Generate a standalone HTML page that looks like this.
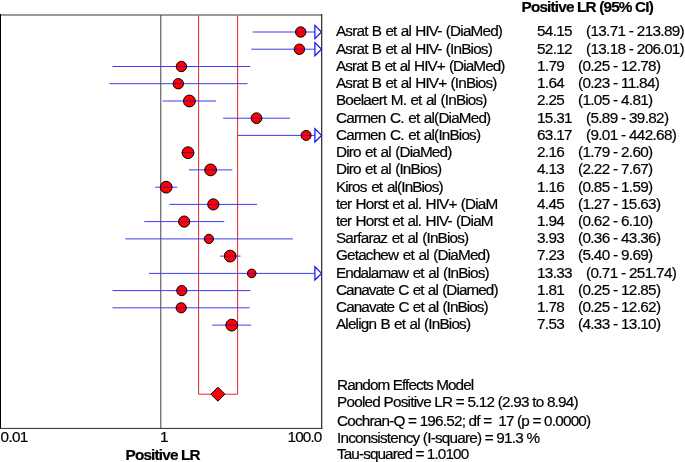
<!DOCTYPE html>
<html><head><meta charset="utf-8"><style>
html,body{margin:0;padding:0;background:#fff;}
body{width:685px;height:462px;position:relative;overflow:hidden;font-family:"Liberation Sans",sans-serif;color:#000;}
.t{position:absolute;-webkit-text-stroke:0.2px #000;font-size:15.3px;line-height:17px;white-space:nowrap;letter-spacing:-0.68px;}
.b{font-weight:bold;}
svg{position:absolute;left:0;top:0;}
#tx{position:absolute;left:0;top:0;width:685px;height:462px;will-change:transform;}
</style></head><body>
<svg width="685" height="462" viewBox="0 0 685 462">
<rect x="0" y="14" width="322" height="2" fill="#9a9a9a"/>
<rect x="0" y="14" width="1" height="415" fill="#000"/>
<rect x="0" y="427.9" width="322.3" height="1.1" fill="#3c3c3c"/>
<rect x="160.3" y="15" width="1" height="413.5" fill="#404040"/>
<path d="M198.6 15.5 V394.2 H237.6 V15.5" fill="none" stroke="#e02828" stroke-width="1"/>
<line x1="252.6" y1="32.0" x2="315.2" y2="32.0" stroke="#3c3cf4" stroke-width="1"/>
<path d="M314.9 25.4 L321.6 32.0 L314.9 38.6 Z" fill="#fff" stroke="#1010f0" stroke-width="1.2" stroke-linejoin="miter"/>
<circle cx="300.7" cy="32.0" r="5.20" fill="#ff0000" stroke="#000" stroke-width="1"/>
<line x1="295.4" y1="32.0" x2="306.0" y2="32.0" stroke="#0000e0" stroke-width="1" opacity="0.55"/>
<line x1="251.3" y1="49.2" x2="315.2" y2="49.2" stroke="#3c3cf4" stroke-width="1"/>
<path d="M314.9 42.6 L321.6 49.2 L314.9 55.8 Z" fill="#fff" stroke="#1010f0" stroke-width="1.2" stroke-linejoin="miter"/>
<circle cx="299.4" cy="49.2" r="5.20" fill="#ff0000" stroke="#000" stroke-width="1"/>
<line x1="294.1" y1="49.2" x2="304.7" y2="49.2" stroke="#0000e0" stroke-width="1" opacity="0.55"/>
<line x1="112.5" y1="66.5" x2="250.2" y2="66.5" stroke="#3c3cf4" stroke-width="1"/>
<circle cx="181.4" cy="66.5" r="5.20" fill="#ff0000" stroke="#000" stroke-width="1"/>
<line x1="176.1" y1="66.5" x2="186.7" y2="66.5" stroke="#0000e0" stroke-width="1" opacity="0.55"/>
<line x1="109.6" y1="83.7" x2="247.5" y2="83.7" stroke="#3c3cf4" stroke-width="1"/>
<circle cx="178.3" cy="83.7" r="5.20" fill="#ff0000" stroke="#000" stroke-width="1"/>
<line x1="173.0" y1="83.7" x2="183.6" y2="83.7" stroke="#0000e0" stroke-width="1" opacity="0.55"/>
<line x1="162.7" y1="101.0" x2="216.0" y2="101.0" stroke="#3c3cf4" stroke-width="1"/>
<circle cx="189.4" cy="101.0" r="5.90" fill="#ff0000" stroke="#000" stroke-width="1"/>
<line x1="183.4" y1="101.0" x2="195.4" y2="101.0" stroke="#0000e0" stroke-width="1" opacity="0.55"/>
<line x1="223.1" y1="118.2" x2="290.0" y2="118.2" stroke="#3c3cf4" stroke-width="1"/>
<circle cx="256.5" cy="118.2" r="5.40" fill="#ff0000" stroke="#000" stroke-width="1"/>
<line x1="251.0" y1="118.2" x2="262.0" y2="118.2" stroke="#0000e0" stroke-width="1" opacity="0.55"/>
<line x1="238.0" y1="135.4" x2="315.2" y2="135.4" stroke="#3c3cf4" stroke-width="1"/>
<path d="M314.9 128.8 L321.6 135.4 L314.9 142.0 Z" fill="#fff" stroke="#1010f0" stroke-width="1.2" stroke-linejoin="miter"/>
<circle cx="306.1" cy="135.4" r="5.00" fill="#ff0000" stroke="#000" stroke-width="1"/>
<line x1="301.0" y1="135.4" x2="311.2" y2="135.4" stroke="#0000e0" stroke-width="1" opacity="0.55"/>
<line x1="181.4" y1="152.7" x2="194.4" y2="152.7" stroke="#3c3cf4" stroke-width="1"/>
<circle cx="188.0" cy="152.7" r="5.90" fill="#ff0000" stroke="#000" stroke-width="1"/>
<line x1="182.0" y1="152.7" x2="194.0" y2="152.7" stroke="#0000e0" stroke-width="1" opacity="0.55"/>
<line x1="188.9" y1="169.9" x2="232.3" y2="169.9" stroke="#3c3cf4" stroke-width="1"/>
<circle cx="210.6" cy="169.9" r="5.90" fill="#ff0000" stroke="#000" stroke-width="1"/>
<line x1="204.6" y1="169.9" x2="216.6" y2="169.9" stroke="#0000e0" stroke-width="1" opacity="0.55"/>
<line x1="155.3" y1="187.2" x2="177.2" y2="187.2" stroke="#3c3cf4" stroke-width="1"/>
<circle cx="166.2" cy="187.2" r="5.90" fill="#ff0000" stroke="#000" stroke-width="1"/>
<line x1="160.2" y1="187.2" x2="172.2" y2="187.2" stroke="#0000e0" stroke-width="1" opacity="0.55"/>
<line x1="169.4" y1="204.4" x2="257.2" y2="204.4" stroke="#3c3cf4" stroke-width="1"/>
<circle cx="213.3" cy="204.4" r="5.60" fill="#ff0000" stroke="#000" stroke-width="1"/>
<line x1="207.6" y1="204.4" x2="219.0" y2="204.4" stroke="#0000e0" stroke-width="1" opacity="0.55"/>
<line x1="144.3" y1="221.6" x2="224.3" y2="221.6" stroke="#3c3cf4" stroke-width="1"/>
<circle cx="184.2" cy="221.6" r="5.60" fill="#ff0000" stroke="#000" stroke-width="1"/>
<line x1="178.5" y1="221.6" x2="189.9" y2="221.6" stroke="#0000e0" stroke-width="1" opacity="0.55"/>
<line x1="125.2" y1="238.9" x2="292.9" y2="238.9" stroke="#3c3cf4" stroke-width="1"/>
<circle cx="208.9" cy="238.9" r="4.60" fill="#ff0000" stroke="#000" stroke-width="1"/>
<line x1="204.2" y1="238.9" x2="213.6" y2="238.9" stroke="#0000e0" stroke-width="1" opacity="0.55"/>
<line x1="220.0" y1="256.1" x2="240.5" y2="256.1" stroke="#3c3cf4" stroke-width="1"/>
<circle cx="230.2" cy="256.1" r="5.90" fill="#ff0000" stroke="#000" stroke-width="1"/>
<line x1="224.2" y1="256.1" x2="236.2" y2="256.1" stroke="#0000e0" stroke-width="1" opacity="0.55"/>
<line x1="149.0" y1="273.4" x2="315.2" y2="273.4" stroke="#3c3cf4" stroke-width="1"/>
<path d="M314.9 266.8 L321.6 273.4 L314.9 280.0 Z" fill="#fff" stroke="#1010f0" stroke-width="1.2" stroke-linejoin="miter"/>
<circle cx="251.7" cy="273.4" r="4.30" fill="#ff0000" stroke="#000" stroke-width="1"/>
<line x1="247.3" y1="273.4" x2="256.1" y2="273.4" stroke="#0000e0" stroke-width="1" opacity="0.55"/>
<line x1="112.5" y1="290.6" x2="250.4" y2="290.6" stroke="#3c3cf4" stroke-width="1"/>
<circle cx="181.8" cy="290.6" r="5.10" fill="#ff0000" stroke="#000" stroke-width="1"/>
<line x1="176.6" y1="290.6" x2="187.0" y2="290.6" stroke="#0000e0" stroke-width="1" opacity="0.55"/>
<line x1="112.5" y1="307.8" x2="249.7" y2="307.8" stroke="#3c3cf4" stroke-width="1"/>
<circle cx="181.2" cy="307.8" r="5.10" fill="#ff0000" stroke="#000" stroke-width="1"/>
<line x1="176.0" y1="307.8" x2="186.4" y2="307.8" stroke="#0000e0" stroke-width="1" opacity="0.55"/>
<line x1="212.3" y1="325.1" x2="251.1" y2="325.1" stroke="#3c3cf4" stroke-width="1"/>
<circle cx="231.7" cy="325.1" r="5.90" fill="#ff0000" stroke="#000" stroke-width="1"/>
<line x1="225.7" y1="325.1" x2="237.7" y2="325.1" stroke="#0000e0" stroke-width="1" opacity="0.55"/>
<rect x="321" y="14" width="1.3" height="414.8" fill="#383838"/>
<path d="M217.9 387.2 L224.9 394.2 L217.9 401.2 L210.9 394.2 Z" fill="#ff0000" stroke="#000" stroke-width="1"/>
</svg>
<div id="tx">
<div class="t b" style="left:521.5px;top:-2.1px;letter-spacing:-0.82px">Positive LR (95% CI)</div>
<div class="t" style="left:336px;top:22.3px;letter-spacing:-0.830px;word-spacing:0.81px">Asrat B et al HIV- (DiaMed)</div>
<div class="t" style="left:537px;top:22.3px">54.15</div>
<div class="t" style="left:586px;top:22.3px">(13.71 - 213.89)</div>
<div class="t" style="left:336px;top:39.5px;letter-spacing:-0.830px;word-spacing:0.81px">Asrat B et al HIV- (InBios)</div>
<div class="t" style="left:537px;top:39.5px">52.12</div>
<div class="t" style="left:586px;top:39.5px">(13.18 - 206.01)</div>
<div class="t" style="left:336px;top:56.8px;letter-spacing:-0.915px;word-spacing:0.81px">Asrat B et al HIV+ (DiaMed)</div>
<div class="t" style="left:537px;top:56.8px">1.79</div>
<div class="t" style="left:578px;top:56.8px">(0.25 - 12.78)</div>
<div class="t" style="left:336px;top:74.0px;letter-spacing:-0.830px;word-spacing:0.81px">Asrat B et al HIV+ (InBios)</div>
<div class="t" style="left:537px;top:74.0px">1.64</div>
<div class="t" style="left:578px;top:74.0px">(0.23 - 11.84)</div>
<div class="t" style="left:336px;top:91.3px;letter-spacing:-0.830px;word-spacing:0.97px">Boelaert M. et al (InBios)</div>
<div class="t" style="left:537px;top:91.3px">2.25</div>
<div class="t" style="left:578px;top:91.3px">(1.05 - 4.81)</div>
<div class="t" style="left:336px;top:108.5px;letter-spacing:-0.830px;word-spacing:1.15px">Carmen C. et al(DiaMed)</div>
<div class="t" style="left:537px;top:108.5px">15.31</div>
<div class="t" style="left:586px;top:108.5px">(5.89 - 39.82)</div>
<div class="t" style="left:336px;top:125.7px;letter-spacing:-0.830px;word-spacing:1.15px">Carmen C. et al(InBios)</div>
<div class="t" style="left:537px;top:125.7px">63.17</div>
<div class="t" style="left:586px;top:125.7px">(9.01 - 442.68)</div>
<div class="t" style="left:336px;top:143.0px;letter-spacing:-0.830px;word-spacing:0.95px">Diro et al (DiaMed)</div>
<div class="t" style="left:537px;top:143.0px">2.16</div>
<div class="t" style="left:578px;top:143.0px">(1.79 - 2.60)</div>
<div class="t" style="left:336px;top:160.2px;letter-spacing:-0.830px;word-spacing:0.95px">Diro et al (InBios)</div>
<div class="t" style="left:537px;top:160.2px">4.13</div>
<div class="t" style="left:578px;top:160.2px">(2.22 - 7.67)</div>
<div class="t" style="left:336px;top:177.5px;letter-spacing:-0.890px;word-spacing:1.43px">Kiros et al(InBios)</div>
<div class="t" style="left:537px;top:177.5px">1.16</div>
<div class="t" style="left:578px;top:177.5px">(0.85 - 1.59)</div>
<div class="t" style="left:336px;top:194.7px;letter-spacing:-0.830px;word-spacing:0.81px">ter Horst et al. HIV+ (DiaM</div>
<div class="t" style="left:537px;top:194.7px">4.45</div>
<div class="t" style="left:578px;top:194.7px">(1.27 - 15.63)</div>
<div class="t" style="left:336px;top:211.9px;letter-spacing:-0.830px;word-spacing:0.81px">ter Horst et al. HIV- (DiaM</div>
<div class="t" style="left:537px;top:211.9px">1.94</div>
<div class="t" style="left:578px;top:211.9px">(0.62 - 6.10)</div>
<div class="t" style="left:336px;top:229.2px;letter-spacing:-0.830px;word-spacing:1.15px">Sarfaraz et al (InBios)</div>
<div class="t" style="left:537px;top:229.2px">3.93</div>
<div class="t" style="left:578px;top:229.2px">(0.36 - 43.36)</div>
<div class="t" style="left:336px;top:246.4px;letter-spacing:-0.830px;word-spacing:1.15px">Getachew et al (DiaMed)</div>
<div class="t" style="left:537px;top:246.4px">7.23</div>
<div class="t" style="left:578px;top:246.4px">(5.40 - 9.69)</div>
<div class="t" style="left:336px;top:263.7px;letter-spacing:-0.870px;word-spacing:1.20px">Endalamaw et al (InBios)</div>
<div class="t" style="left:537px;top:263.7px">13.33</div>
<div class="t" style="left:586px;top:263.7px">(0.71 - 251.74)</div>
<div class="t" style="left:336px;top:280.9px;letter-spacing:-0.930px;word-spacing:0.94px">Canavate C et al (Diamed)</div>
<div class="t" style="left:537px;top:280.9px">1.81</div>
<div class="t" style="left:578px;top:280.9px">(0.25 - 12.85)</div>
<div class="t" style="left:336px;top:298.1px;letter-spacing:-0.915px;word-spacing:0.94px">Canavate C et al (InBios)</div>
<div class="t" style="left:537px;top:298.1px">1.78</div>
<div class="t" style="left:578px;top:298.1px">(0.25 - 12.62)</div>
<div class="t" style="left:336px;top:315.4px;letter-spacing:-0.830px;word-spacing:0.90px">Alelign B et al (InBios)</div>
<div class="t" style="left:537px;top:315.4px">7.53</div>
<div class="t" style="left:578px;top:315.4px">(4.33 - 13.10)</div>
<div class="t" style="left:337px;top:376px;letter-spacing:-0.91px">Random Effects Model</div>
<div class="t" style="left:337px;top:393.1px;letter-spacing:-0.77px">Pooled Positive LR = 5.12 (2.93 to 8.94)</div>
<div class="t" style="left:337px;top:411.5px;letter-spacing:-0.80px">Cochran-Q = 196.52; df =&nbsp; 17 (p = 0.0000)</div>
<div class="t" style="left:337px;top:428.6px;letter-spacing:-0.79px">Inconsistency (I-square) = 91.3 %</div>
<div class="t" style="left:337px;top:445px;letter-spacing:-0.9px">Tau-squared = 1.0100</div>
<div class="t" style="left:0.6px;top:428.3px">0.01</div>
<div class="t" style="left:160px;top:428.3px">1</div>
<div class="t" style="left:287.6px;top:428.3px;letter-spacing:-0.9px">100.0</div>
<div class="t b" style="left:125.5px;top:446.4px;letter-spacing:-0.82px">Positive LR</div>
</div>
</body></html>
